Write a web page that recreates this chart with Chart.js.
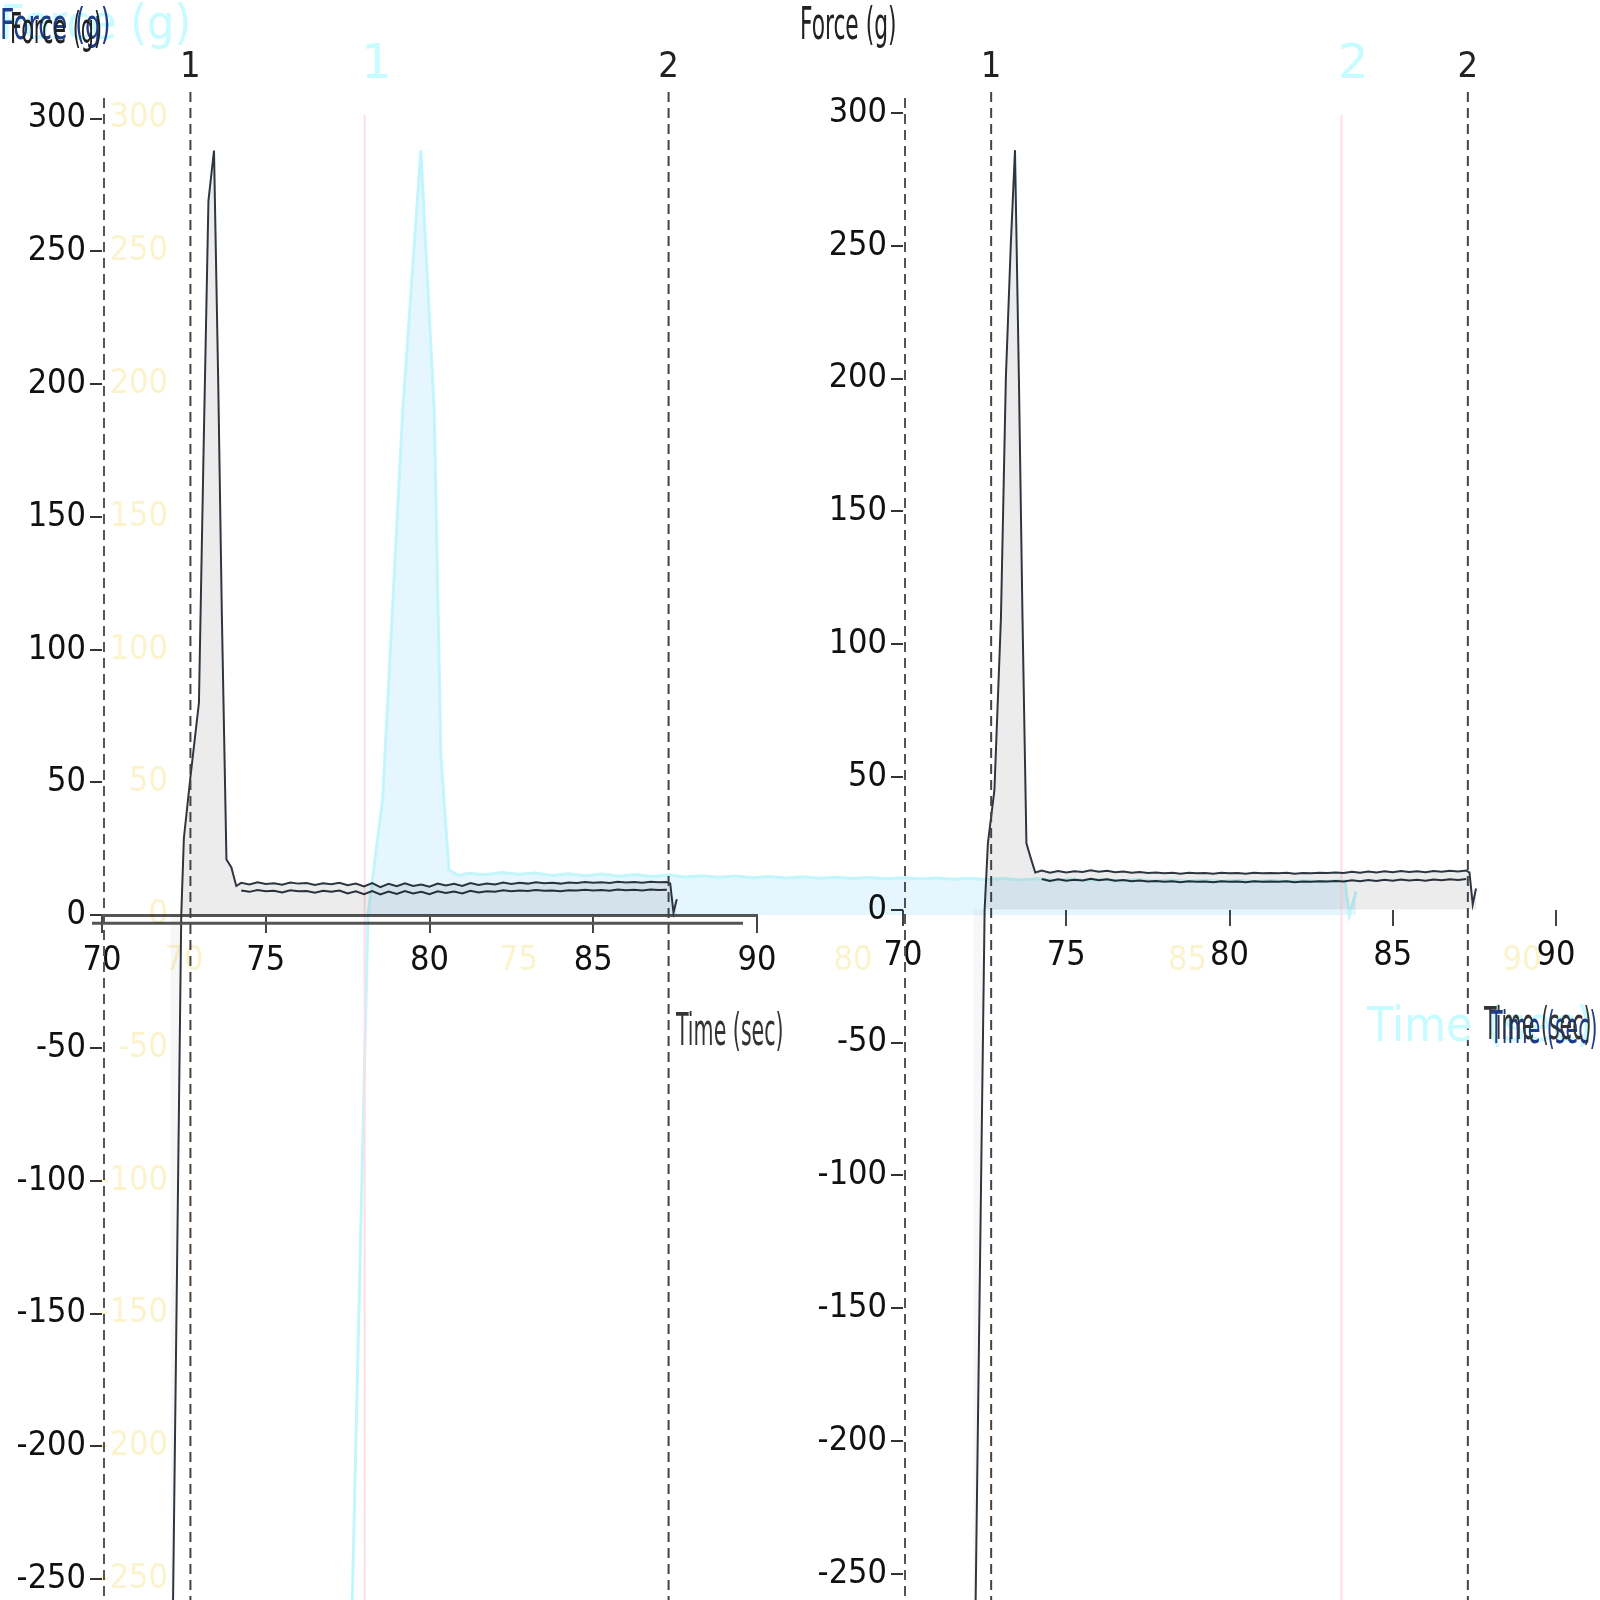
<!DOCTYPE html>
<html>
<head>
<meta charset="utf-8">
<title>Force (g)</title>
<script src="https://cdn.jsdelivr.net/npm/chart.js@4.4.1/dist/chart.umd.min.js"></script>
<style>
  html, body { margin: 0; padding: 0; background: #fff; }
  #stage { position: relative; width: 1600px; height: 1600px; overflow: hidden; background: #fff; }
  .box { position: absolute; top: 0; height: 1630px; }
  #leftBox { left: 0; width: 800px; }
  #rightBox { left: 800px; width: 800px; }
  #ghostBox { left: 0; width: 1600px; mix-blend-mode: multiply; }
  .lbl { position: absolute; white-space: nowrap; font-family: "DejaVu Sans Condensed", "DejaVu Sans", sans-serif; transform-origin: left top; }
</style>
</head>
<body>
<div id="stage">
  <div class="box" id="leftBox"><canvas id="leftChart"></canvas></div>
  <div class="box" id="rightBox"><canvas id="rightChart"></canvas></div>
  <div class="box" id="ghostBox"><canvas id="ghostChart"></canvas></div>

  <div class="lbl" style="left:0;top:-6px;font-size:48px;color:#c6fbff;">Force (g)</div>
  <div class="lbl" style="left:0;top:0;font-size:42px;color:#1f3c88;transform:scaleX(0.66);">Force (g)</div>
  <div class="lbl" style="left:10px;top:4px;font-size:42px;color:#222;transform:scaleX(0.55);">Force (g)</div>
  <div class="lbl" style="left:800px;top:-2px;font-size:44px;color:#222;transform:scaleX(0.55);">Force (g)</div>
  <div class="lbl" style="left:676px;top:1004px;font-size:44px;color:#333;transform:scaleX(0.52);">Time (sec)</div>
  <div class="lbl" style="left:1367px;top:996px;font-size:48px;color:#c6fbff;">Time (sec)</div>
  <div class="lbl" style="left:1490px;top:1002px;font-size:44px;color:#1f3c88;transform:scaleX(0.52);">Time (sec)</div>
  <div class="lbl" style="left:1484px;top:998px;font-size:44px;color:#333;transform:scaleX(0.52);">Time (sec)</div>
</div>

<script>
// axis ticks
const timeTicks = [70, 75, 80, 85, 90];
const forceTicks = [-250, -200, -150, -100, -50, 0, 50, 100, 150, 200, 250, 300];

// event markers
const markerTimes = [72.7, 87.3];
const markerLabels = ['1', '2'];

// plateau sample times (sec)
const plateauTimes = [74.25, 74.5, 74.75, 75, 75.25, 75.5, 75.75, 76, 76.25, 76.5, 76.75, 77, 77.25, 77.5, 77.75,
  78, 78.25, 78.5, 78.75, 79, 79.25, 79.5, 79.75, 80, 80.25, 80.5, 80.75, 81, 81.25, 81.5, 81.75, 82, 82.25,
  82.5, 82.75, 83, 83.25, 83.5, 83.75, 84, 84.25, 84.5, 84.75, 85, 85.25, 85.5, 85.75, 86, 86.25, 86.5, 86.75,
  87, 87.25];

// left panel - peak and release
const leftPeakTimes = [72.1, 72.42, 72.5, 72.7, 72.96, 73.1, 73.25, 73.42, 73.55, 73.66, 73.8, 73.95, 74.1];
const leftPeakForce = [-330, 0, 29, 52, 80, 174, 269, 288, 200, 113, 21, 18, 11];
const leftEndTimes = [87.35, 87.45, 87.55];
const leftEndForce = [12, 1, 6];
const leftUpper = [12.2, 11.6, 12.4, 11.8, 12.0, 11.5, 12.3, 11.9, 12.1, 11.4, 12.0, 11.7, 12.2, 11.3, 11.9,
  10.8, 12.1, 10.6, 11.8, 10.9, 12.0, 11.0, 11.6, 10.7, 11.9, 11.2, 11.8, 11.0, 12.1, 11.4, 11.9, 11.6, 12.3,
  11.8, 12.2, 11.9, 12.4, 12.0, 12.2, 11.9, 12.3, 12.1, 12.5, 12.2, 12.4, 12.1, 12.6, 12.3, 12.5, 12.2, 12.6,
  12.4, 12.5];
const leftLower = [9.3, 8.8, 9.5, 9.0, 9.2, 8.6, 9.4, 9.0, 9.1, 8.5, 9.2, 8.8, 9.3, 8.2, 9.0,
  7.9, 9.1, 7.8, 8.9, 8.0, 9.1, 8.2, 8.8, 7.9, 9.0, 8.4, 8.9, 8.2, 9.2, 8.6, 9.0, 8.8, 9.4,
  9.0, 9.3, 9.1, 9.5, 9.2, 9.3, 9.0, 9.4, 9.3, 9.6, 9.3, 9.5, 9.2, 9.7, 9.4, 9.6, 9.3, 9.7,
  9.5, 9.6];

// right panel
const rightPeakTimes = [72.15, 72.5, 72.6, 72.8, 73.0, 73.15, 73.3, 73.43, 73.55, 73.66, 73.78, 73.9, 74.05];
const rightPeakForce = [-330, 0, 25, 45, 110, 200, 250, 286, 200, 110, 25, 20, 14];
const rightEndTimes = [87.35, 87.45, 87.55];
const rightEndForce = [14, 2, 8];
const rightUpper = [14.8, 13.9, 14.6, 14.0, 14.5, 14.2, 14.9, 14.3, 14.7, 14.1, 14.4, 13.9, 14.2, 13.8, 14.0,
  13.7, 13.9, 13.6, 13.9, 13.7, 13.8, 13.6, 13.9, 13.7, 13.8, 13.6, 13.9, 13.7, 13.8, 13.7, 13.9, 13.6, 13.8,
  13.7, 13.9, 13.8, 14.0, 13.8, 14.3, 13.9, 14.4, 14.0, 14.5, 14.1, 14.6, 14.2, 14.5, 14.1, 14.6, 14.3, 14.7,
  14.4, 14.8];
const rightLower = [11.6, 10.8, 11.5, 10.9, 11.3, 11.0, 11.7, 11.1, 11.5, 10.9, 11.2, 10.7, 11.0, 10.6, 10.8,
  10.5, 10.7, 10.4, 10.7, 10.5, 10.6, 10.4, 10.7, 10.5, 10.6, 10.4, 10.7, 10.5, 10.6, 10.5, 10.7, 10.4, 10.6,
  10.5, 10.7, 10.6, 10.8, 10.6, 11.1, 10.7, 11.2, 10.8, 11.3, 10.9, 11.4, 11.0, 11.3, 10.9, 11.4, 11.1, 11.5,
  11.2, 11.6];

// faint overlay trace
const ghostPeakTimes = [72.45, 72.75, 72.97, 73.27, 73.54, 73.74, 73.84, 73.96, 74.1];
const ghostPeakForce = [-330, 0, 44, 190, 288, 190, 60, 17, 15];
const ghostEndTimes = [87.35, 87.42, 87.52];
const ghostEndForce = [13, 0, 9];
const ghostPlateau = [15.8, 15.2, 16.1, 15.4, 15.9, 15.0, 15.6, 14.9, 15.5, 14.7, 15.3, 14.6, 15.1, 14.4, 14.9,
  14.3, 14.8, 14.1, 14.6, 14.0, 14.5, 13.9, 14.3, 13.8, 14.2, 13.7, 14.1, 13.6, 14.0, 13.5, 13.9, 13.4, 13.8,
  13.3, 13.7, 13.2, 13.6, 13.1, 13.5, 13.0, 13.4, 12.9, 13.3, 12.8, 13.2, 12.8, 13.1, 12.7, 13.1, 12.7, 13.0,
  12.7, 13.0];

function toPoints(times, values) {
  return times.map((t, i) => ({ x: t, y: values[i] }));
}

const markerPlugin = {
  id: 'markers',
  afterDatasetsDraw(chart, args, opts) {
    const { ctx, scales } = chart;
    ctx.save();
    // dashed y axis line at the start of the time range
    if (opts.axisDash) {
      const ax = scales.x.getPixelForValue(70) + 2;
      ctx.strokeStyle = '#555';
      ctx.lineWidth = 2;
      ctx.setLineDash([10, 6]);
      ctx.beginPath();
      ctx.moveTo(ax, 98);
      ctx.lineTo(ax, chart.height);
      ctx.stroke();
    }
    // second copy of the zero line
    if (opts.doubleZero) {
      const y0 = scales.y.getPixelForValue(0) + 8;
      ctx.setLineDash([]);
      ctx.strokeStyle = '#555';
      ctx.lineWidth = 3;
      ctx.beginPath();
      ctx.moveTo(scales.x.left - 10, y0);
      ctx.lineTo(scales.x.right - 14, y0);
      ctx.stroke();
    }
    markerTimes.forEach((t, i) => {
      const x = scales.x.getPixelForValue(t);
      ctx.strokeStyle = opts.color;
      ctx.lineWidth = opts.width;
      ctx.setLineDash(opts.dash);
      ctx.beginPath();
      ctx.moveTo(x, opts.top);
      ctx.lineTo(x, chart.height);
      ctx.stroke();
      ctx.setLineDash([]);
      ctx.fillStyle = opts.labelColor;
      ctx.font = opts.font;
      ctx.textAlign = 'center';
      ctx.textBaseline = 'middle';
      ctx.fillText(markerLabels[i], x + opts.labelOffset, opts.labelY);
    });
    ctx.restore();
  }
};

function makeChart(id, datasets, o) {
  const ctx = document.getElementById(id).getContext('2d');
  return new Chart(ctx, {
    type: 'line',
    data: { datasets: datasets },
    plugins: [markerPlugin],
    options: {
      responsive: true,
      maintainAspectRatio: false,
      animation: false,
      devicePixelRatio: 1,
      layout: { padding: { top: o.padTop, right: o.padRight, bottom: 0, left: 0 } },
      plugins: {
        legend: { display: false },
        tooltip: { enabled: false },
        markers: o.markers
      },
      scales: {
        x: {
          type: 'linear',
          position: { y: 0 },
          min: 70,
          max: 90,
          afterBuildTicks: (axis) => { axis.ticks = timeTicks.map(v => ({ value: v })); },
          ticks: { color: o.tickColor, font: { family: '"DejaVu Sans Condensed", "DejaVu Sans"', size: 34 }, padding: 10 },
          grid: { display: o.axes, drawOnChartArea: false, tickLength: 16, color: '#444', lineWidth: 2 },
          border: { display: o.xBorder, color: '#555', width: 3 }
        },
        y: {
          type: 'linear',
          min: o.yMin,
          max: o.yMax,
          afterBuildTicks: (axis) => { axis.ticks = forceTicks.map(v => ({ value: v })); },
          afterFit: (scale) => { scale.width = o.yWidth; },
          ticks: { color: o.tickColor, font: { family: '"DejaVu Sans Condensed", "DejaVu Sans"', size: 34 }, padding: 4 },
          grid: { display: o.axes, drawOnChartArea: false, tickLength: 12, color: '#333', lineWidth: 2 },
          border: { display: false }
        }
      }
    }
  });
}

function blackMarkers(doubleZero) {
  return { color: '#444', width: 2, dash: [10, 6], top: 92, labelY: 68, labelColor: '#222',
    font: '36px "DejaVu Sans Condensed", "DejaVu Sans"', labelOffset: 0, axisDash: true, doubleZero: doubleZero };
}

function panelSets(peakT, peakF, upper, lower, endT, endF) {
  const upperPts = toPoints(peakT, peakF).concat(toPoints(plateauTimes, upper), toPoints(endT, endF));
  return [
    { data: upperPts, borderColor: '#2e3640', borderWidth: 2, pointRadius: 0, tension: 0,
      fill: { target: 'origin', above: 'rgba(0,0,0,0.075)', below: 'rgba(0,0,0,0.03)' } },
    { data: toPoints(plateauTimes, lower), borderColor: '#2e3640', borderWidth: 2, pointRadius: 0, tension: 0, fill: false }
  ];
}

makeChart('leftChart', panelSets(leftPeakTimes, leftPeakForce, leftUpper, leftLower, leftEndTimes, leftEndForce), {
  padTop: 108, padRight: 43, yWidth: 102, yMin: -260, yMax: 304, tickColor: '#111', axes: true, xBorder: true, markers: blackMarkers(true)
});

makeChart('rightChart', panelSets(rightPeakTimes, rightPeakForce, rightUpper, rightLower, rightEndTimes, rightEndForce), {
  padTop: 105, padRight: 44, yWidth: 103, yMin: -262, yMax: 303, tickColor: '#111', axes: true, xBorder: false, markers: blackMarkers(false)
});

const ghostPts = toPoints(ghostPeakTimes, ghostPeakForce).concat(toPoints(plateauTimes, ghostPlateau), toPoints(ghostEndTimes, ghostEndForce));
makeChart('ghostChart', [
  { data: ghostPts, borderColor: '#c2f6fc', borderWidth: 3, pointRadius: 0, tension: 0,
    fill: { target: 'origin', above: 'rgba(226,245,254,0.9)', below: 'rgba(0,0,0,0)' } }
], {
  padTop: 108, padRight: 78, yWidth: 184, yMin: -260, yMax: 304, tickColor: '#fbf3cc', axes: false, xBorder: false,
  markers: { color: '#ffdde5', width: 2, dash: [], top: 115, labelY: 66, labelColor: '#c6fbff',
    font: '48px "DejaVu Sans", sans-serif', labelOffset: 12, axisDash: false, doubleZero: false }
});
</script>
</body>
</html>
